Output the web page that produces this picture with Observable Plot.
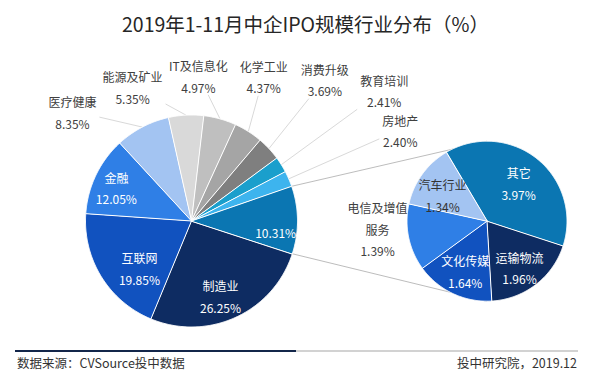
<!DOCTYPE html>
<html><head><meta charset="utf-8">
<script src="https://cdn.jsdelivr.net/npm/d3@7"></script>
<script src="https://cdn.jsdelivr.net/npm/@observablehq/plot@0.6"></script>
<style>
body{margin:0;background:#fff;font-family:"Noto Sans CJK SC","Noto Sans",sans-serif;}
#wrap{position:relative;width:589px;height:381px;overflow:hidden;background:#fff;}
#title{position:absolute;left:11px;top:0;width:589px;height:48px;line-height:48px;text-align:center;font-size:19.5px;color:#262626;white-space:nowrap;}
#chart{position:absolute;left:0;top:48px;}
.rule{position:absolute;top:349.5px;height:2px;}
.foot{position:absolute;top:354px;font-size:12.5px;color:#333;line-height:18px;white-space:nowrap;}
</style></head><body>
<div id="wrap">
<div id="title">2019年1-11月中企IPO规模行业分布（%）</div>
<div id="chart"></div>
<div class="rule" style="left:15px;width:281px;background:#13264a"></div>
<div class="rule" style="left:296px;width:282px;background:#d2d2d2"></div>
<div class="foot" style="left:17px">数据来源：CVSource投中数据</div>
<div class="foot" style="right:12px">投中研究院，2019.12</div>
</div>
<script>
// ---- data ----
const mainNames = ["制造业","互联网","金融","医疗健康","能源及矿业","IT及信息化","化学工业","消费升级","教育培训","房地产","其他"];
const mainValues = [26.25,19.85,12.05,8.35,5.35,4.97,4.37,3.69,2.41,2.40,10.31];
const subNames = ["其它","运输物流","文化传媒","电信及增值服务","汽车行业"];
const subValues = [3.97,1.96,1.64,1.39,1.34];

// ---- styles / layout ----
const mainColors = ["#0e2c62","#1152bf","#2f7fe6","#a3c4f2","#d9d9d9","#bfbfbf","#a5a5a5","#7f7f7f","#1a9fcc","#3db4ee","#0b76b2"];
const subColors = ["#0b76b2","#0e2c62","#1152bf","#2f7fe6","#a3c4f2"];
const mainLabelShift = [3.35,-9.7,-0.95,-19.6,-20.6,-12.9,-6.0,-3.8,-2.2,-0.2,7.7];
const mainLabelRadius = [0.75,0.655,0.78,1.53,1.39,1.38,1.53,1.84,2.20,2.15,0.80];
const mainLabelFill = ["#fff","#fff","#fff","#404040","#404040","#404040","#404040","#404040","#404040","#404040","#fff"];
const subLabelShift = [0.2,2.2,-1.2,8.3,-4.5];
const subLabelRadius = [0.63,0.70,0.67,1.37,0.65];
const subLabelFill = ["#fff","#fff","#fff","#404040","#333"];
const subLabelName = {"电信及增值服务":"电信及增值\n服务"};

const W = 589, H = 298;
const mainC = {x:191, y:172.5}, mainR = 106;
const subC = {x:486.5, y:172.7}, subR = 80;
const rad = d => d*Math.PI/180;
const polar = (c, r, a) => ({x: c.x + r*Math.sin(a), y: c.y - r*Math.cos(a)});

const mainData = mainNames.map((name,i)=>({name, value:mainValues[i], color:mainColors[i], i}));
const subData = subNames.map((name,i)=>({name, value:subValues[i], color:subColors[i], i}));

const mainArcs = d3.pie().sort(null).value(d=>d.value).startAngle(rad(108)).endAngle(rad(108)+2*Math.PI)(mainData);
const subArcs = d3.pie().sort(null).value(d=>d.value).startAngle(rad(-30.7)).endAngle(rad(-30.7)+2*Math.PI)(subData);

function polys(arcs, c, r, prefix){
  const pts = [];
  for (const a of arcs){
    const key = prefix + a.data.name;
    pts.push({key, color:a.data.color, x:c.x, y:c.y});
    const n = Math.max(2, Math.ceil((a.endAngle - a.startAngle)/rad(0.5)));
    for (let k=0;k<=n;k++){
      const t = a.startAngle + (a.endAngle - a.startAngle)*k/n;
      const p = polar(c, r, t);
      pts.push({key, color:a.data.color, x:p.x, y:p.y});
    }
  }
  return pts;
}
const fmt = v => v.toFixed(2) + "%";
function tw(s){let w=0; for(const ch of s) w += /[\u2E80-\uFFFF]/.test(ch)?12:(ch==='%'?10:(ch==='.'?3.5:6.8)); return w;}

const labels = [], leaders = [];
mainArcs.forEach((a,i)=>{
  const mid = (a.startAngle + a.endAngle)/2;
  const p = polar(mainC, mainR*mainLabelRadius[i], mid + rad(mainLabelShift[i]));
  const text = a.data.name === "其他" ? fmt(a.data.value) : a.data.name + "\n" + fmt(a.data.value);
  labels.push({x:p.x, y:p.y, text, fill:mainLabelFill[i]});
  if (mainLabelRadius[i] > 1){
    const e = polar(mainC, mainR, mid);
    const dx = e.x - p.x, dy = e.y - p.y;
    const hw = Math.max(...text.split("\n").map(tw))/2 + 3, hh = 20;
    const t = Math.min(Math.abs(hw/dx), Math.abs(hh/dy));
    leaders.push({x1:p.x + t*dx, y1:p.y + t*dy, x2:e.x, y2:e.y});
  }
});
subArcs.forEach((a,i)=>{
  const mid = (a.startAngle + a.endAngle)/2;
  const p = polar(subC, subR*subLabelRadius[i], mid + rad(subLabelShift[i]));
  const name = subLabelName[a.data.name] || a.data.name;
  labels.push({x:p.x, y:p.y, text:name + "\n" + fmt(a.data.value), fill:subLabelFill[i]});
});

const other = mainArcs[mainArcs.length-1];
const p1 = polar(mainC, mainR, other.startAngle), p2 = polar(mainC, mainR, other.endAngle);
const connectors = [
  {x1:p1.x, y1:p1.y, x2:subC.x, y2:subC.y - subR},
  {x1:p2.x, y1:p2.y, x2:subC.x, y2:subC.y + subR}
];

const chart = Plot.plot({
  width: W, height: H, margin: 0,
  x: {domain:[0,W], range:[0,W], axis:null},
  y: {domain:[0,H], range:[0,H], axis:null},
  color: {type:"identity"},
  style: {fontFamily:'"Noto Sans CJK SC","Noto Sans",sans-serif', background:"transparent"},
  marks: [
    Plot.link(connectors, {x1:"x1", y1:"y1", x2:"x2", y2:"y2", stroke:"#b4b4b4", strokeWidth:0.9}),
    Plot.link(leaders, {x1:"x1", y1:"y1", x2:"x2", y2:"y2", stroke:"#d9d9d9", strokeWidth:1}),
    Plot.line(polys(mainArcs, mainC, mainR, "m"), {x:"x", y:"y", z:"key", fill:"color", stroke:"#fff", strokeWidth:1, strokeLinejoin:"round", curve:"linear-closed"}),
    Plot.line(polys(subArcs, subC, subR, "s"), {x:"x", y:"y", z:"key", fill:"color", stroke:"#fff", strokeWidth:1, strokeLinejoin:"round", curve:"linear-closed"}),
    Plot.text(labels, {x:"x", y:"y", text:"text", fill:"fill", fontSize:12, lineHeight:1.8, textAnchor:"middle", fontFamily:'"Noto Sans CJK SC","Noto Sans",sans-serif'})
  ]
});
document.getElementById("chart").appendChild(chart);
</script>
</body></html>
